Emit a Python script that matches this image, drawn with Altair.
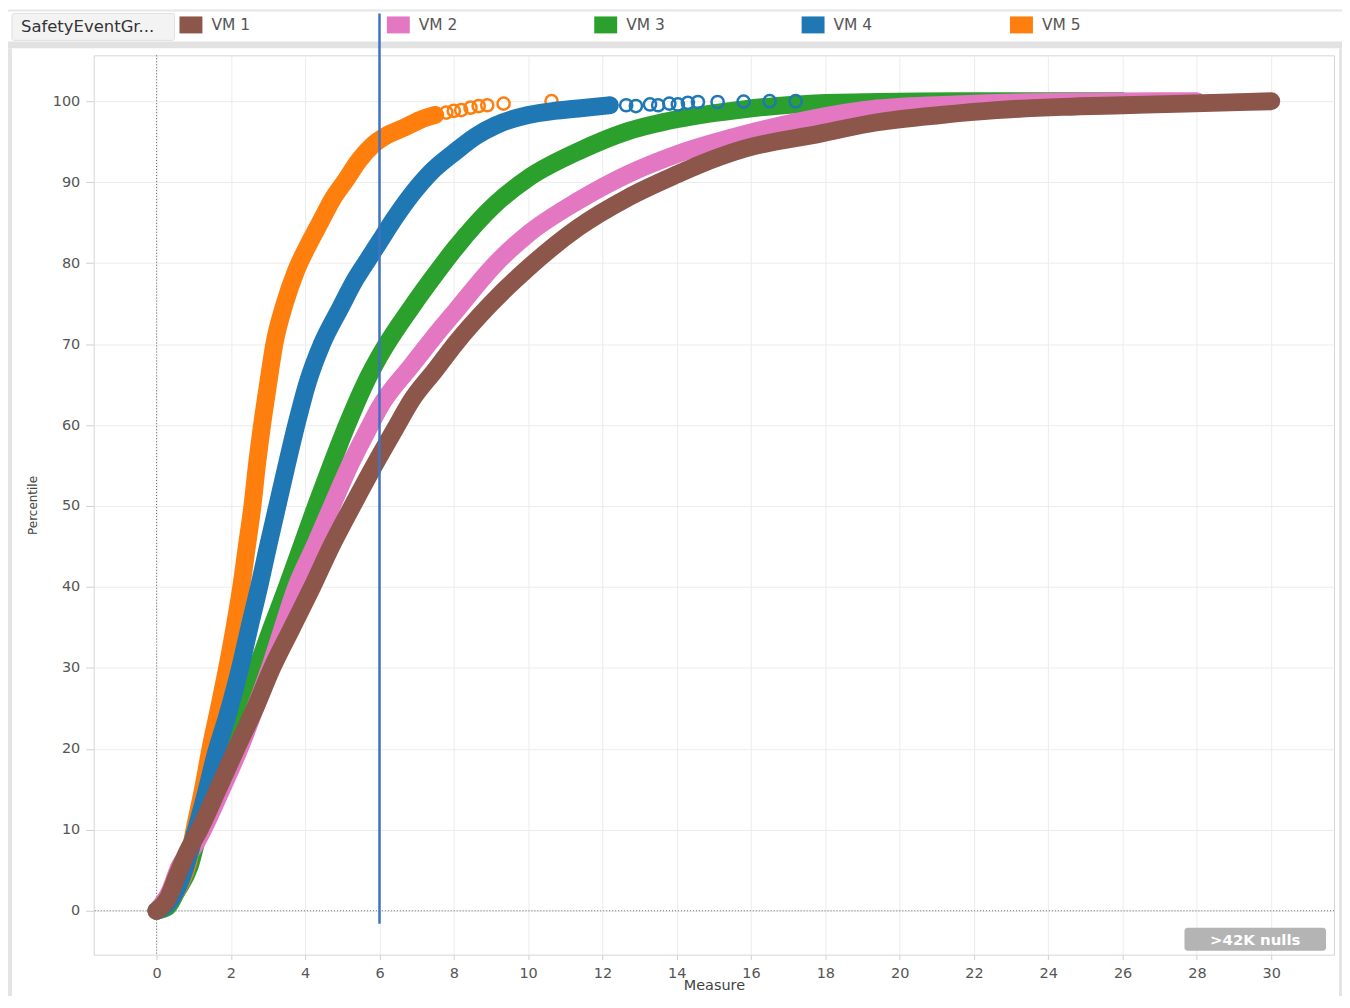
import altair as alt
import pandas as pd

series = ["VM 1", "VM 2", "VM 3", "VM 4", "VM 5"]
colors = ["#8c564b", "#e377c2", "#2ca02c", "#1f77b4", "#ff7f0e"]

# dense band (centre line) of each series
vm1_x = [0.0, 0.3, 0.54, 0.83, 1.15, 1.65, 2.14, 2.65, 3.11, 3.65, 4.19, 4.7, 5.27, 5.98, 6.44, 6.87, 7.5, 8.05, 9.0, 10.0, 11.35, 12.69, 14.03, 14.58, 15.8, 17.86, 19.4, 21.1, 22.6, 24.4, 26.0, 27.7, 30.0]
vm1_y = [0.0, 1.5, 4.2, 7.3, 10.0, 15.0, 20.0, 25.0, 30.0, 35.0, 40.0, 45.0, 50.0, 56.0, 59.7, 63.1, 66.8, 70.1, 75.0, 79.4, 84.4, 88.1, 91.0, 92.1, 94.1, 96.0, 97.4, 98.3, 98.9, 99.3, 99.5, 99.7, 100.0]

vm2_x = [0.0, 0.35, 0.62, 0.95, 1.25, 1.75, 2.23, 2.65, 3.05, 3.4, 3.76, 4.25, 4.72, 5.2, 5.72, 5.98, 6.87, 7.4, 8.05, 9.12, 10.0, 11.35, 12.69, 14.03, 15.8, 17.6, 19.4, 21.5, 24.0, 28.0]
vm2_y = [0.0, 2.3, 5.5, 7.5, 10.0, 15.0, 20.0, 25.0, 30.0, 35.0, 40.0, 45.0, 50.0, 55.0, 59.7, 62.0, 67.4, 70.5, 74.1, 79.9, 83.6, 87.7, 91.0, 93.5, 95.9, 97.8, 99.1, 99.6, 99.9, 100.0]

vm3_x = [0.0, 0.3, 0.53, 0.89, 1.15, 1.5, 1.8, 2.2, 2.7, 3.1, 3.51, 3.9, 4.29, 4.7, 5.1, 5.6, 6.0, 6.87, 7.5, 8.05, 9.12, 10.0, 11.35, 12.69, 14.03, 15.8, 17.6, 19.4, 21.5, 24.0, 26.0]
vm3_y = [0.0, 0.5, 2.3, 5.5, 10.0, 15.0, 20.0, 25.0, 30.0, 35.0, 40.0, 45.0, 50.0, 55.0, 59.7, 65.0, 68.5, 74.6, 78.6, 81.9, 87.3, 90.5, 93.8, 96.3, 97.8, 99.0, 99.7, 99.9, 100.0, 100.0, 100.0]

vm4_x = [0.0, 0.4, 0.75, 1.0, 1.3, 1.6, 1.9, 2.25, 2.5, 2.76, 3.0, 3.25, 3.5, 3.76, 4.05, 4.45, 4.95, 5.35, 5.7, 5.98, 6.4, 6.87, 7.4, 8.05, 8.6, 9.12, 10.0, 10.7, 11.35, 12.2]
vm4_y = [0.0, 1.5, 5.0, 9.0, 14.0, 19.5, 24.0, 30.0, 35.0, 40.0, 45.0, 50.0, 55.0, 60.0, 65.0, 70.0, 74.5, 78.0, 80.5, 82.5, 85.5, 88.5, 91.3, 93.8, 95.7, 97.0, 98.3, 98.8, 99.1, 99.5]

vm5_x = [0.0, 0.3, 0.6, 0.85, 1.02, 1.25, 1.45, 1.68, 1.9, 2.1, 2.28, 2.43, 2.58, 2.7, 2.84, 3.0, 3.17, 3.45, 3.75, 4.1, 4.4, 4.75, 5.1, 5.45, 5.85, 6.2, 6.65, 7.1, 7.5]
vm5_y = [0.0, 1.0, 3.0, 6.0, 10.0, 15.0, 20.0, 25.0, 30.0, 35.0, 40.0, 45.0, 50.0, 55.0, 60.0, 65.0, 70.0, 75.0, 79.0, 82.4, 85.0, 88.0, 90.3, 92.7, 94.7, 95.8, 96.7, 97.7, 98.3]

# sparse, individually visible circles
vm1_pts_x = [0.0, 0.54, 0.62, 0.83, 0.9, 30.0]
vm1_pts_y = [0.0, 4.2, 4.6, 7.3, 7.8, 100.0]
vm4_pts_x = [12.64, 12.9, 13.28, 13.5, 13.8, 14.03, 14.3, 14.57, 15.1, 15.8, 16.5, 17.2]
vm4_pts_y = [99.5, 99.4, 99.6, 99.5, 99.7, 99.6, 99.8, 99.9, 99.9, 99.95, 100.0, 100.0]
vm5_pts_x = [7.8, 8.0, 8.2, 8.45, 8.67, 8.9, 9.34, 10.63]
vm5_pts_y = [98.6, 98.8, 98.9, 99.2, 99.4, 99.5, 99.7, 100.0]

x_ticks = list(range(0, 31, 2))
y_ticks = list(range(0, 101, 10))
ref_x = 6
null_badge = ">42K nulls"

band = {"VM 1": (vm1_x, vm1_y), "VM 2": (vm2_x, vm2_y), "VM 3": (vm3_x, vm3_y),
        "VM 4": (vm4_x, vm4_y), "VM 5": (vm5_x, vm5_y)}
pts = {"VM 1": (vm1_pts_x, vm1_pts_y), "VM 4": (vm4_pts_x, vm4_pts_y), "VM 5": (vm5_pts_x, vm5_pts_y)}

W, H = 1244, 902
FONT = "DejaVu Sans"

color_scale = alt.Scale(domain=series, range=colors)
x_scale = alt.Scale(domain=[-1.6905, 31.69], nice=False, zero=False)
y_scale = alt.Scale(domain=[-5.419, 105.665], nice=False, zero=False)

x_axis = alt.Axis(values=x_ticks, grid=True, gridColor="#ececec", domain=False,
                  tickColor="#d0d0d0", tickSize=5, labelColor="#555555", labelFont=FONT,
                  labelFontSize=14.5, labelPadding=7, title="Measure", titleFont=FONT,
                  titleFontSize=14.5, titleFontWeight="normal", titleColor="#444444",
                  titleX=622, titleY=31, titleBaseline="middle", titleAlign="center")
y_axis = alt.Axis(values=y_ticks, grid=True, gridColor="#ececec", domain=False,
                  tickColor="#d0d0d0", tickSize=8, labelColor="#555555", labelFont=FONT,
                  labelFontSize=14.5, labelPadding=6, title="Percentile", titleFont=FONT,
                  titleFontSize=12, titleFontWeight="normal", titleColor="#444444",
                  titleAngle=270, titleX=-61, titleY=451, titleBaseline="middle",
                  titleAlign="center")

dummy = pd.DataFrame({"a": [0]})

layers = []


def deco_rect(x1, x2, y1, y2, fill, stroke=None, radius=0):
    kw = dict(fill=fill, cornerRadius=radius)
    if stroke:
        kw["stroke"] = stroke
        kw["strokeWidth"] = 1
    return alt.Chart(dummy).mark_rect(**kw).encode(
        x=alt.value(x1), x2=alt.value(x2), y=alt.value(y1), y2=alt.value(y2))


# pane decorations (outside plot area); plot origin is at page (94, 54)
layers.append(deco_rect(-86, 1254, -46, -44, "#e6e6e6"))
layers.append(deco_rect(-86, 1254, -14, -7, "#e2e2e2"))
layers.append(deco_rect(-86, -82, -7, 950, "#e4e4e4"))
layers.append(deco_rect(1249, 1256, -7, 950, "#e4e4e4"))
layers.append(deco_rect(-82, 81, -42, -15, "#f3f3f3", stroke="#e0e0e0", radius=2))
layers.append(alt.Chart(dummy).mark_text(text="SafetyEventGr...", font=FONT, fontSize=16.5,
                                         color="#333333", align="left", baseline="middle").encode(
    x=alt.value(-73), y=alt.value(-28)))
leg_x = [86, 294, 502, 710, 919]
for s, c, lx in zip(series, colors, leg_x):
    layers.append(deco_rect(lx, lx + 23, -39, -22, c))
    layers.append(alt.Chart(dummy).mark_text(text=s, font=FONT, fontSize=15.5, color="#555555",
                                             align="left", baseline="middle").encode(
        x=alt.value(lx + 32), y=alt.value(-30)))

base = alt.Chart(dummy)

# zero reference lines (dotted)
layers.append(base.mark_rule(color="#666666", strokeDash=[1, 2], strokeWidth=1).encode(
    x=alt.X(datum=0, scale=x_scale, axis=x_axis)))
layers.append(base.mark_rule(color="#666666", strokeDash=[1, 2], strokeWidth=1).encode(
    y=alt.Y(datum=0, scale=y_scale, axis=y_axis)))

order = ["VM 3", "VM 2", "VM 5", "VM 4", "VM 1"]
for s in order:
    xs, ys = band[s]
    df = pd.DataFrame({"Measure": xs, "Percentile": ys, "series": s, "i": range(len(xs))})
    layers.append(alt.Chart(df).mark_line(strokeWidth=18, strokeCap="round", strokeJoin="round",
                                          interpolate="monotone").encode(
        x=alt.X("Measure:Q", scale=x_scale, axis=x_axis),
        y=alt.Y("Percentile:Q", scale=y_scale, axis=y_axis),
        color=alt.Color("series:N", scale=color_scale, legend=None),
        order="i:Q"))
    if s in pts:
        px, py = pts[s]
        dfp = pd.DataFrame({"Measure": px, "Percentile": py, "series": s})
        layers.append(alt.Chart(dfp).mark_point(shape="circle", filled=False, size=150,
                                                strokeWidth=2.5, opacity=1).encode(
            x=alt.X("Measure:Q", scale=x_scale, axis=x_axis),
            y=alt.Y("Percentile:Q", scale=y_scale, axis=y_axis),
            color=alt.Color("series:N", scale=color_scale, legend=None)))

# reference line at Measure = 6
layers.append(base.mark_rule(color="#3f72c0", strokeWidth=2.5).encode(
    x=alt.X(datum=ref_x, scale=x_scale, axis=x_axis),
    y=alt.Y(datum=-1.6, scale=y_scale, axis=y_axis),
    y2=alt.value(-42)))

# null badge
layers.append(deco_rect(1094, 1236, 875, 898, "#b4b4b4", radius=3))
layers.append(alt.Chart(dummy).mark_text(text=null_badge, font=FONT, fontSize=15, fontWeight="bold",
                                         color="#ffffff", align="center", baseline="middle").encode(
    x=alt.value(1165), y=alt.value(887)))

chart = alt.layer(*layers).properties(
    width=W, height=H,
    autosize=alt.AutoSizeParams(type="none"),
    padding={"left": 86, "top": 46, "right": 8, "bottom": 40},
    background="#ffffff",
).configure_view(stroke="#d6d6d6", strokeWidth=1)

chart.save("out.html", embed_options={"renderer": "svg", "actions": False})
